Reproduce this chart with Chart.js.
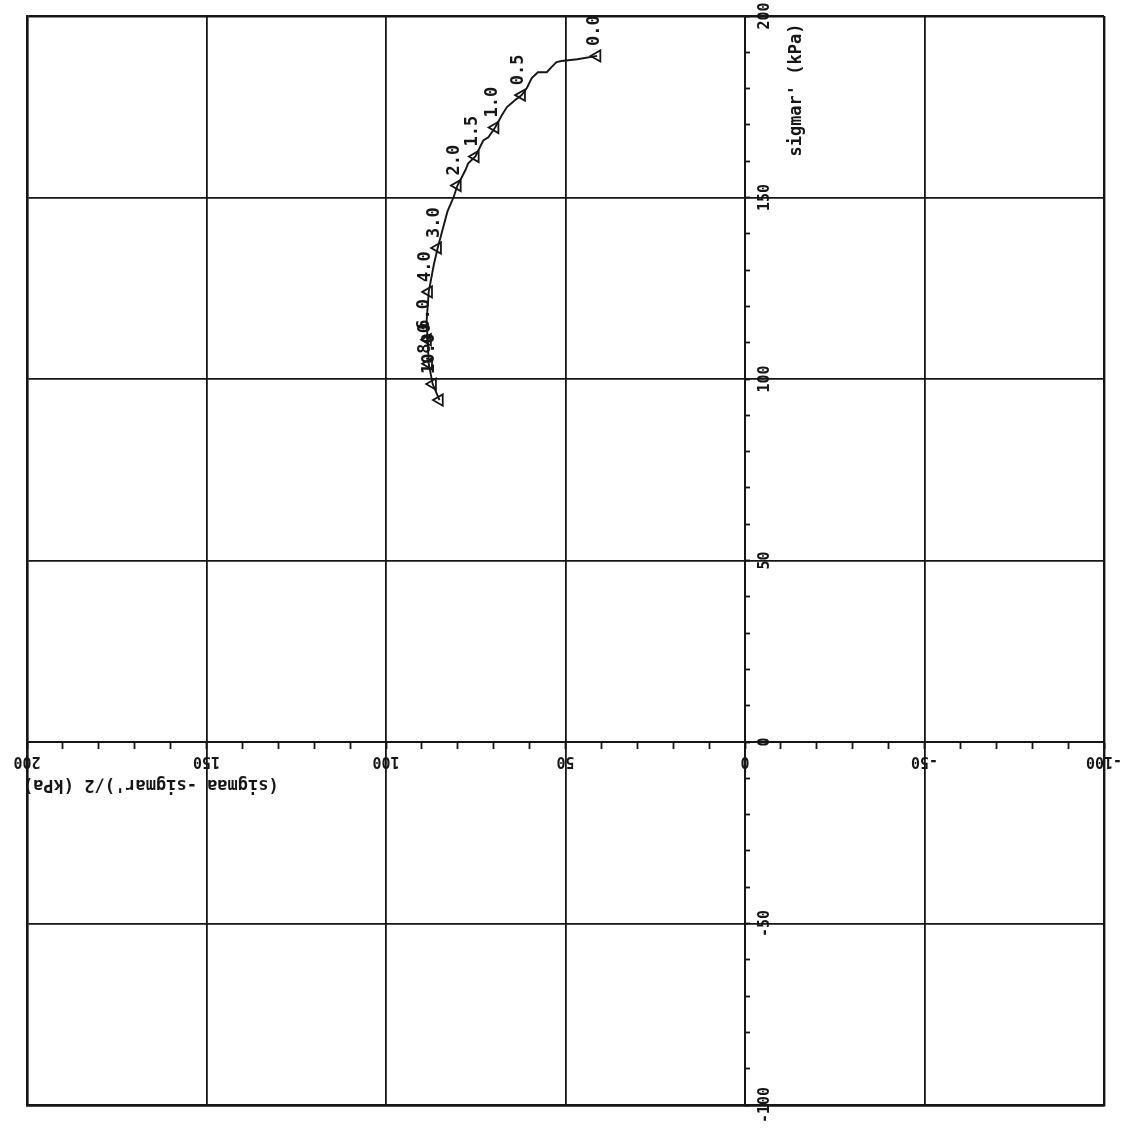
<!DOCTYPE html>
<html>
<head>
<meta charset="utf-8">
<script src="https://cdn.jsdelivr.net/npm/chart.js@4.4.1/dist/chart.umd.min.js"></script>
<style>
  html, body { margin: 0; padding: 0; background: #ffffff; }
  #wrap { width: 1129px; height: 1132px; }
</style>
</head>
<body>
<div id="wrap"><canvas id="c" width="1129" height="1132"></canvas></div>
<script>
// ---- data ----
// stress path: x = (sigmaa - sigmar')/2 (kPa), y = sigmar' (kPa)
const pathX = [41.2, 46.7, 51.1, 52.5, 53.9, 55.2, 57.7, 59.4, 60.8, 62.2,
               64.1, 66.3, 67.7, 69.6, 71.5, 72.9, 75.1, 77.1, 77.9, 80.1,
               81.2, 82.9, 85.6, 86.7, 88.1, 88.7, 88.4, 88.1, 87.0, 85.1];
const pathY = [189.0, 188.1, 187.6, 187.3, 185.9, 184.5, 184.5, 182.9, 180.1, 178.2,
               176.8, 174.9, 172.7, 169.3, 166.6, 165.7, 161.3, 159.4, 157.5, 153.3,
               150.0, 146.1, 136.1, 131.4, 124.0, 115.8, 110.8, 104.2, 98.6, 94.2];
// marked points (triangles) and their strain labels
const markX = [41.2, 62.2, 69.6, 75.1, 80.1, 85.6, 88.1, 88.4, 88.1, 87.0, 85.1];
const markY = [189.0, 178.2, 169.3, 161.3, 153.3, 136.1, 124.0, 110.8, 104.2, 98.6, 94.2];
const markLabels = ['0.0', '0.5', '1.0', '1.5', '2.0', '3.0', '4.0', '6.0', '8.0', '10.0', ''];
// axes
const axisMin = -100, axisMax = 200;
const gridStep = 50, minorStep = 10;
const xTickLabels = ['200', '150', '100', '50', '0', '-50', '-100'];
const yTickLabels = ['200', '150', '100', '50', '0', '-50', '-100'];
const xTitle = "(sigmaa -sigmar')/2 (kPa)";
const yTitle = "sigmar' (kPa)";

const INK = '#161616';
const tickFont = { family: 'DejaVu Sans Mono', size: 15, weight: 'bold', lineHeight: 1.2 };

function labelFor(list, v) {
  const s = String(v);
  return list.includes(s) ? s : '';
}
const zeroSize = s => { if (s.isHorizontal()) s.height = 0; else s.width = 0; };

const fixLabels = {
  id: 'fixLabels',
  beforeDraw(chart) {
    const area = chart.chartArea;
    const xs = chart.scales.xAxis0, ys = chart.scales.yAxis0;
    xs.getLabelItems(area).forEach(it => {
      if (it._fixed) return; it._fixed = true;
      it.options.textAlign = 'center';
    });
    ys.getLabelItems(area).forEach(it => {
      if (it._fixed) return; it._fixed = true;
      it.options.textAlign = 'center';
      const t = it.options.translation;
      it.options.translation = [t[0] + 20, t[1]];
    });
  }
};

const extras = {
  id: 'extras',
  afterDraw(chart) {
    const ctx = chart.ctx;
    const xs = chart.scales.x, ys = chart.scales.y;
    ctx.save();
    ctx.fillStyle = INK;
    // point labels
    ctx.font = 'bold 17px "DejaVu Sans Mono"';
    const meta = chart.getDatasetMeta(1);
    meta.data.forEach((pt, i) => {
      const t = markLabels[i];
      if (!t) return;
      ctx.save();
      ctx.translate(pt.x - 3, pt.y - 10);
      ctx.rotate(-Math.PI / 2);
      ctx.textAlign = 'left';
      ctx.textBaseline = 'middle';
      ctx.fillText(t, 0, 0);
      ctx.restore();
    });
    // axis titles
    ctx.font = 'bold 17px "DejaVu Sans Mono"';
    ctx.save();
    ctx.translate(xs.getPixelForValue(165.5), ys.getPixelForValue(0) + 42);
    ctx.rotate(Math.PI);
    ctx.textAlign = 'center';
    ctx.textBaseline = 'middle';
    ctx.fillText(xTitle, 0, 0);
    ctx.restore();
    ctx.save();
    ctx.translate(xs.getPixelForValue(0) + 52, ys.getPixelForValue(179.6));
    ctx.rotate(-Math.PI / 2);
    ctx.textAlign = 'center';
    ctx.textBaseline = 'middle';
    ctx.fillText(yTitle, 0, 0);
    ctx.restore();
    ctx.restore();
  }
};

const gridWidth = c => (c.tick && (c.tick.value === axisMin || c.tick.value === axisMax)) ? 2.4 : 1.8;

new Chart(document.getElementById('c'), {
  type: 'scatter',
  data: {
    datasets: [
      {
        label: 'path',
        data: pathX.map((x, i) => ({ x, y: pathY[i] })),
        showLine: true,
        borderColor: INK,
        borderWidth: 1.9,
        pointRadius: 0,
        tension: 0,
        xAxisID: 'x', yAxisID: 'y'
      },
      {
        label: 'marks',
        data: markX.map((x, i) => ({ x, y: markY[i] })),
        showLine: false,
        pointStyle: 'triangle',
        rotation: -90,
        pointRadius: 6.5,
        borderWidth: 1.8,
        borderColor: INK,
        backgroundColor: 'rgba(255,255,255,0)',
        xAxisID: 'x', yAxisID: 'y'
      }
    ]
  },
  options: {
    responsive: false,
    animation: false,
    devicePixelRatio: 1,
    layout: { padding: { left: 27, top: 16, right: 25, bottom: 27 } },
    plugins: { legend: { display: false }, tooltip: { enabled: false } },
    scales: {
      x: {
        type: 'linear', axis: 'x', position: 'bottom', reverse: true,
        min: axisMin, max: axisMax,
        ticks: { display: false, stepSize: gridStep },
        grid: { color: INK, lineWidth: gridWidth, drawTicks: false },
        border: { display: true, color: INK, width: 2.4 },
        afterFit: zeroSize
      },
      y: {
        type: 'linear', axis: 'y', position: 'left',
        min: axisMin, max: axisMax,
        ticks: { display: false, stepSize: gridStep },
        grid: { color: INK, lineWidth: gridWidth, drawTicks: false },
        border: { display: true, color: INK, width: 2.4 },
        afterFit: zeroSize
      },
      xAxis0: {
        type: 'linear', axis: 'x', position: { y: 0 }, reverse: true,
        min: axisMin, max: axisMax,
        ticks: {
          stepSize: minorStep, autoSkip: false, minRotation: 180, maxRotation: 180,
          padding: 22, color: INK, font: tickFont,
          callback: v => labelFor(xTickLabels, v)
        },
        grid: { drawOnChartArea: false, drawTicks: true, tickLength: 6, tickWidth: 1.8, tickColor: INK },
        border: { display: true, color: INK, width: 2 },
        afterFit: zeroSize
      },
      yAxis0: {
        type: 'linear', axis: 'y', position: { x: 0 },
        min: axisMin, max: axisMax,
        ticks: {
          stepSize: minorStep, autoSkip: false, minRotation: 90, maxRotation: 90,
          color: INK, font: tickFont,
          callback: v => labelFor(yTickLabels, v)
        },
        grid: { drawOnChartArea: false, drawTicks: true, tickLength: -6, tickWidth: 1.8, tickColor: INK },
        border: { display: true, color: INK, width: 2 },
        afterFit: zeroSize
      }
    }
  },
  plugins: [fixLabels, extras]
});
</script>
</body>
</html>
